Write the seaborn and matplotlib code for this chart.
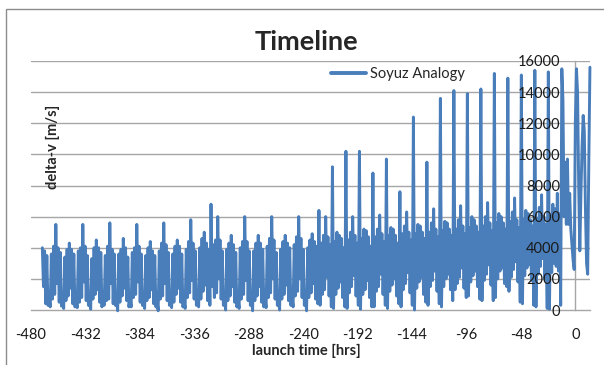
import numpy as np
import pandas as pd
import matplotlib
matplotlib.use("Agg")
import matplotlib.pyplot as plt
import seaborn as sns
from matplotlib.patches import Rectangle

# ---- data (delta-v in m/s, sampled every ~0.99 h, one row of 12 samples per ~11.9 h cycle)
start_hr = -470.0
step_hr = 11.9 / 12

dv_early = [
    4000, 1500, 3800, 400, 3500, 300, 800, 200, 3600, 700, 4100, 1000,
    5500, 1700, 4000, 500, 3700, 250, 700, 100, 3400, 600, 3900, 900,
    4300, 1400, 3900, 400, 3600, 200, 600, 150, 3800, 500, 4000, 800,
    5500, 1800, 4100, 600, 3500, 300, 500, 50, 3300, 700, 4000, 1000,
    4500, 1300, 4000, 500, 3700, 200, 800, 300, 3500, 600, 4100, 700,
    5600, 1700, 3900, 400, 3600, 300, 600, -50, 3600, 500, 3900, 900,
    4600, 1400, 4000, 600, 3400, 200, 700, 200, 3700, 800, 4000, 1000,
    5500, 1800, 4100, 500, 3600, 300, 500, 100, 3500, 600, 4000, 800,
    4400, 1300, 3800, 400, 3500, 200, 600, -50, 3800, 700, 4300, 900,
    5600, 1700, 4200, 600, 3700, 300, 800, 150, 3600, 500, 4100, 1000,
    4500, 1400, 4100, 500, 3600, 200, 600, 100, 3900, 800, 4400, 1100,
    5800, 1900, 4300, 700, 3800, 300, 900, 200, 4000, 700, 4600, 1200,
    5000, 1600, 4300, 600, 3900, 300, 6800, 1500, 4200, 800, 4500, 1100,
    6000, 2000, 4500, 700, 3800, 300, 800, 0, 3900, 600, 4300, 900,
]
dv_mid = [
    4800, 1500, 4200, 500, 3700, 200, 700, 100, 4000, 700, 4400, 1000,
    6000, 1900, 4400, 600, 3800, 300, 900, -50, 3800, 600, 4300, 900,
    4800, 1500, 4300, 500, 3900, 200, 800, 150, 4100, 800, 4600, 1100,
    6000, 2000, 4500, 700, 3700, 300, 700, 0, 3900, 700, 4400, 1000,
    4800, 1600, 4300, 600, 4000, 300, 900, 200, 4200, 900, 4700, 1200,
    6000, 2000, 4600, 800, 3900, 300, 800, -50, 4000, 800, 4500, 1100,
    4900, 1700, 4400, 700, 4100, 400, 6400, 300, 4300, 1000, 4800, 1300,
    6000, 2100, 4700, 900, 4200, 200, 9200, 100, 4400, 1000, 5000, 1400,
    4800, 1800, 4600, 800, 4000, 200, 10200, 100, 4500, 1100, 5000, 1500,
    6000, 2200, 4800, 900, 4300, 300, 10200, 50, 4600, 1000, 5200, 1300,
    5100, 1900, 4700, 800, 4100, 200, 8800, 200, 4700, 1200, 5200, 1500,
    6100, 2300, 4900, 1000, 4400, 300, 9700, 100, 4800, 1200, 5300, 1600,
    5200, 2000, 4800, 900, 4300, 400, 7600, 200, 4900, 1300, 5400, 1700,
    6300, 2400, 5000, 1100, 4500, 300, 12400, 0, 4900, 1400, 5500, 1800,
]
dv_late = [
    5400, 2100, 5000, 1000, 4600, 500, 9500, 300, 5000, 1500, 5600, 1900,
    6500, 2500, 5200, 1200, 4700, 400, 13600, 200, 5100, 1500, 5700, 2000,
    5600, 2300, 5200, 1300, 4800, 600, 14100, 1300, 5200, 1700, 5800, 2100,
    6700, 2700, 5400, 1400, 4900, 800, 13900, 900, 5300, 1800, 6000, 2200,
    5800, 2500, 5400, 1500, 5000, 700, 14200, 600, 5400, 1900, 6000, 2300,
    6900, 2900, 5600, 1600, 5100, 600, 15200, 800, 5600, 2000, 6200, 2500,
    6000, 2700, 5600, 1700, 5200, 1500, 14900, 1200, 5700, 2100, 6300, 2600,
    7200, 3100, 5800, 1800, 5300, 500, 15100, 400, 5800, 2200, 6400, 2700,
    6200, 2900, 5800, 1900, 5400, 300, 15400, 200, 5900, 2300, 6600, 2800,
    7400, 3300, 6000, 2000, 5500, 100, 15300, 50, 6000, 2400, 6800, 3000,
    6500, 2800, 7500, 2500, 6200, 300, 15500, 13500, 6000, 9500, 5500, 9700,
    5500, 7500, 5200, 4200, 3200, 2600, 12000, 15500, 14000, 8000, 3800, 7500,
    10500, 12500, 11500, 6500, 3000, 2300, 9500, 15600,
]

x_ticks = [-480, -432, -384, -336, -288, -240, -192, -144, -96, -48, 0]
y_ticks = [0, 2000, 4000, 6000, 8000, 10000, 12000, 14000, 16000]

delta_v = dv_early + dv_mid + dv_late
hours = start_hr + step_hr * np.arange(len(delta_v))
df = pd.DataFrame({"launch time [hrs]": hours, "delta-v [m/s]": delta_v})

# ---- style
sns.set_theme(style="white")
plt.rcParams["font.family"] = ["Lato", "DejaVu Sans"]

W, H = 604, 365
fig = plt.figure(figsize=(W / 100, H / 100), dpi=100)
ax = fig.add_axes([31 / W, 1 - 310 / H, (590 - 31) / W, (310 - 61) / H])

blue = "#4A7EBB"
grid_c = "#a6a6a6"

# gridlines behind the data
for yv in y_ticks[1:]:
    ax.axhline(yv, color=grid_c, linewidth=1.0, zorder=0.5)

sns.lineplot(data=df, x="launch time [hrs]", y="delta-v [m/s]", ax=ax,
             color=blue, linewidth=2.1, estimator=None, sort=False,
             label="Soyuz Analogy", clip_on=False, zorder=2)

ax.set_xlim(-480, 13)
ax.set_ylim(0, 16000)
ax.set_xticks(x_ticks)
ax.set_yticks(y_ticks)
ax.set_xticklabels([str(v) for v in x_ticks])
ax.set_yticklabels([str(v) for v in y_ticks])
ax.grid(False)
ax.set_axisbelow(False)
ax.xaxis.set_zorder(3)
ax.yaxis.set_zorder(3)

for s in ["top", "right"]:
    ax.spines[s].set_visible(False)
ax.spines["left"].set_position(("data", 0))
ax.spines["left"].set_color(grid_c)
ax.spines["left"].set_linewidth(1.0)
ax.spines["left"].set_zorder(0.6)
ax.spines["bottom"].set_color(grid_c)
ax.spines["bottom"].set_linewidth(1.0)
ax.spines["bottom"].set_zorder(0.6)

ax.tick_params(axis="x", length=0, pad=13, labelsize=10.5, colors="#1a1a1a")
ax.tick_params(axis="y", length=0, pad=11, labelsize=10.5, colors="#1a1a1a")

ax.set_xlabel("")
ax.set_ylabel("")
fig.text(306 / W, 1 - 351 / H, "launch time [hrs]", ha="center", va="center",
         fontsize=10.5, fontweight="bold")
fig.text(53 / W, 1 - 147 / H, "delta-v [m/s]", ha="center", va="center",
         rotation=90, fontsize=10.5, fontweight="bold")
fig.text(306 / W, 1 - 42 / H, "Timeline", ha="center", va="center",
         fontsize=19.5, fontweight="bold")

leg = ax.legend(loc="center left", bbox_to_anchor=(331 / W, 1 - 74 / H),
                bbox_transform=fig.transFigure, frameon=False, fontsize=10.5,
                handlelength=2.4, handletextpad=0.25, borderpad=0, borderaxespad=0)
for ln in leg.get_lines():
    ln.set_linewidth(2.8)

fig.patches.append(Rectangle((6 / W, -0.1), 1.2, 1 - 9 / H + 0.1,
                             transform=fig.transFigure, fill=False,
                             edgecolor="#8c8c8c", linewidth=1.0))

fig.savefig("out.png", dpi=100)
